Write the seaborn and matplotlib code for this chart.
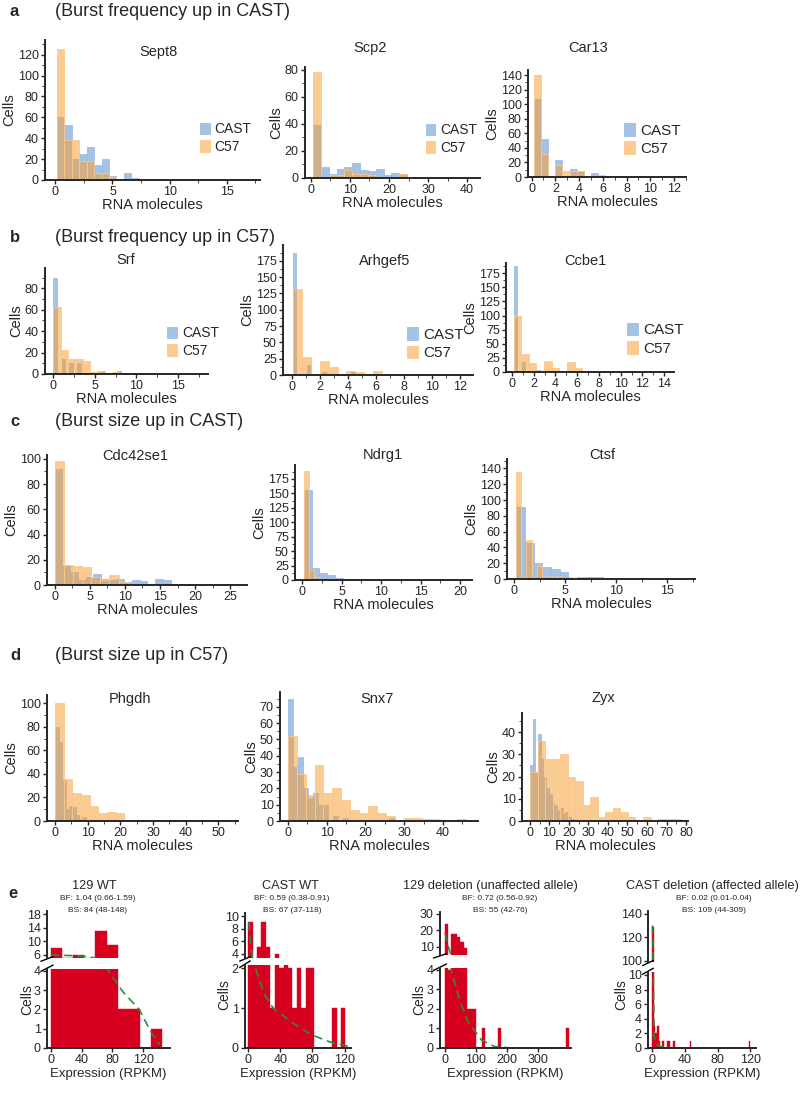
import matplotlib
matplotlib.use("Agg")
import matplotlib.pyplot as plt
import seaborn as sns
from matplotlib.ticker import AutoMinorLocator, MultipleLocator

# ---------------- data: histograms (bin edges + cell counts) ----------------
# row a : burst frequency up in CAST
sept8_cast_edges = [0.15, 0.8, 1.45, 2.1, 2.75, 3.4, 4.05, 4.7, 5.35, 6.0, 6.65, 7.3, 7.95, 8.6]
sept8_cast_counts = [60, 53, 20, 25, 32, 14, 20, 4, 0, 7, 2, 0, 1]
sept8_c57_edges = [0.15, 0.8, 1.45, 2.1, 2.75, 3.4, 4.05, 4.7, 5.35]
sept8_c57_counts = [125, 38, 38, 18, 18, 7, 7, 3]

scp2_cast_edges = [0.6, 2.6, 4.6, 6.6, 8.6, 10.6, 12.6, 14.6, 16.6, 18.6, 20.6, 22.6, 24.6, 26.6, 28.6, 30.6, 32.6, 34.6, 36.6, 38.6, 40.6, 42.6]
scp2_cast_counts = [39, 8, 3, 7, 8, 11, 6, 5, 7, 2, 4, 3, 1, 0, 0, 1, 0, 1, 0, 0, 1]
scp2_c57_edges = [0.6, 2.6, 4.6, 6.6, 8.6, 10.6, 12.6, 14.6, 16.6, 18.6, 20.6, 22.6, 24.6, 26.6, 28.6]
scp2_c57_counts = [78, 1, 2, 2, 6, 3, 3, 2, 1, 1, 1, 3, 1, 0]

car13_cast_edges = [0.2, 0.8, 1.4, 2.0, 2.6, 3.2, 3.8, 4.4, 5.0, 5.6, 6.2, 6.8, 7.4, 8.0, 8.6]
car13_cast_counts = [107, 52, 0, 24, 0, 11, 8, 0, 6, 0, 0, 0, 0, 1]
car13_c57_edges = [0.2, 0.8, 1.4, 2.0, 2.6, 3.2, 3.8, 4.4, 5.0, 5.6, 6.2, 6.8, 7.4]
car13_c57_counts = [140, 31, 0, 16, 8, 8, 8, 0, 2, 3, 0, 2]

# row b : burst frequency up in C57
srf_cast_edges = [0, 0.48, 0.96, 1.44, 1.92, 2.4, 2.88, 3.36, 3.84, 4.32, 4.8, 5.28, 5.76, 6.24, 6.72, 7.2, 7.68, 8.16]
srf_cast_counts = [90, 0, 14, 0, 10, 0, 10, 0, 0, 0, 0, 0, 2, 0, 0, 0, 3]
srf_c57_edges = [0, 0.88, 1.76, 2.64, 3.52, 4.4, 5.28, 6.16, 7.04, 7.92, 8.8, 9.68, 10.56, 11.44, 12.32, 13.2, 14.08, 14.96, 15.84, 16.72, 17.6]
srf_c57_counts = [63, 22, 14, 14, 12, 2, 3, 1, 2, 1, 1, 1, 1, 1, 1, 1, 1, 1, 1, 1]

arhgef5_cast_edges = [0.05, 0.31, 0.57, 0.83, 1.09, 1.35, 1.61, 1.87, 2.13, 2.39, 2.65, 2.91, 3.17, 3.43, 3.69, 3.95, 4.21, 4.47]
arhgef5_cast_counts = [187, 0, 0, 0, 16, 0, 0, 0, 5, 0, 0, 0, 2, 0, 0, 0, 4]
arhgef5_c57_edges = [0.1, 0.73, 1.36, 1.99, 2.62, 3.25, 3.88, 4.51, 5.14, 5.77, 6.4, 7.03, 7.66, 8.29, 8.92, 9.55, 10.18, 10.81, 11.44, 12.07, 12.7]
arhgef5_c57_counts = [131, 28, 0, 21, 12, 0, 6, 5, 0, 6, 0, 0, 0, 0, 0, 0, 0, 0, 0, 1]

ccbe1_cast_edges = [0.15, 0.5, 0.85, 1.2, 1.55, 1.9, 2.25, 2.6, 2.95, 3.3]
ccbe1_cast_counts = [187, 0, 17, 0, 0, 0, 4, 0, 2]
ccbe1_c57_edges = [0.15, 0.85, 1.55, 2.25, 2.95, 3.65, 4.35, 5.05, 5.75, 6.45, 7.15, 7.85]
ccbe1_c57_counts = [100, 32, 16, 0, 20, 7, 0, 17, 7, 0, 2]

# row c : burst size up in CAST
cdc42se1_cast_edges = [0, 1.1, 2.2, 3.3, 4.4, 5.5, 6.6, 7.7, 8.8, 9.9, 11.0, 12.1, 13.2, 14.3, 15.4, 16.5, 17.6, 18.7, 19.8, 20.9]
cdc42se1_cast_counts = [92, 15, 10, 4, 6, 9, 5, 4, 5, 2, 4, 3, 0, 5, 4, 0, 1, 1, 0]
cdc42se1_c57_edges = [0, 1.3, 2.6, 3.9, 5.2, 6.5, 7.8, 9.1, 10.4, 11.7, 13.0, 14.3, 15.6, 16.9, 18.2, 19.5, 20.8, 22.1, 23.4, 24.7, 26.0]
cdc42se1_c57_counts = [98, 16, 15, 14, 6, 4, 8, 2, 1, 0, 0, 0, 0, 0, 0, 0, 0, 0, 0, 1]

ndrg1_cast_edges = [0.2, 1.2, 2.2, 3.2, 4.2, 5.2, 6.2, 7.2, 8.2, 9.2, 10.2]
ndrg1_cast_counts = [155, 20, 12, 8, 4, 2, 1, 1, 0, 1]
ndrg1_c57_edges = [0.2, 0.84, 1.48, 2.12]
ndrg1_c57_counts = [188, 18, 5]

ctsf_cast_edges = [0.2, 1.05, 1.9, 2.75, 3.6, 4.45, 5.3, 6.15, 7.0, 7.85, 8.7, 9.55, 10.4, 11.25, 12.1, 12.95, 13.8, 14.65, 15.5, 16.35, 17.2]
ctsf_cast_counts = [91, 46, 20, 15, 13, 9, 0, 2, 2, 3, 1, 0, 0, 0, 0, 0, 0, 0, 1, 1]
ctsf_c57_edges = [0.2, 0.7, 1.2, 1.7, 2.2, 2.7, 3.2, 3.7, 4.2, 4.7, 5.2, 5.7]
ctsf_c57_counts = [135, 0, 49, 0, 16, 0, 4, 0, 4, 0, 2]

# row d : burst size up in C57
phgdh_cast_edges = [0, 1.06, 2.12, 3.18, 4.24, 5.3, 6.36, 7.42, 8.48, 9.54, 10.6, 11.66, 12.72]
phgdh_cast_counts = [80, 67, 35, 10, 13, 12, 5, 2, 3, 1, 1, 1]
phgdh_c57_edges = [0, 2.65, 5.3, 7.95, 10.6, 13.25, 15.9, 18.55, 21.2, 23.85, 26.5, 29.15, 31.8, 34.45, 37.1, 39.75, 42.4, 45.05, 47.7, 50.35, 53.0]
phgdh_c57_counts = [100, 36, 24, 22, 13, 7, 8, 7, 1, 0, 0, 0, 0, 0, 0, 0, 0, 0, 1, 1]

snx7_cast_edges = [0, 1.3, 2.6, 3.9, 5.2, 6.5, 7.8, 9.1, 10.4, 11.7, 13.0, 14.3, 15.6, 16.9, 18.2, 19.5, 20.8, 22.1, 23.4, 24.7, 26.0, 27.3]
snx7_cast_counts = [75, 33, 39, 20, 14, 17, 10, 10, 0, 3, 0, 2, 0, 0, 0, 0, 0, 0, 0, 0, 2]
snx7_c57_edges = [0, 2.3, 4.6, 6.9, 9.2, 11.5, 13.8, 16.1, 18.4, 20.7, 23.0, 25.3, 27.6, 29.9, 32.2, 34.5, 36.8, 39.1, 41.4, 43.7, 46.0]
snx7_c57_counts = [52, 29, 16, 34, 17, 20, 13, 7, 5, 9, 5, 3, 0, 2, 2, 1, 1, 0, 0, 1]

zyx_cast_edges = [0, 1.4, 2.8, 4.2, 5.6, 7.0, 8.4, 9.8, 11.2, 12.6, 14.0, 15.4, 16.8, 18.2, 19.6, 21.0, 22.4, 23.8]
zyx_cast_counts = [25, 46, 22, 39, 28, 20, 15, 12, 8, 7, 5, 6, 3, 4, 2, 1, 1]
zyx_c57_edges = [0.2, 4.05, 7.9, 11.75, 15.6, 19.45, 23.3, 27.15, 31.0, 34.85, 38.7, 42.55, 46.4, 50.25, 54.1, 57.95, 61.8, 65.65, 69.5, 73.35, 77.2]
zyx_c57_counts = [22, 36, 28, 28, 30, 20, 18, 7, 11, 2, 4, 6, 4, 2, 0, 2, 0, 1, 1, 1]

# row e : allele-specific expression (RPKM), broken y axis, fitted curve in green
wt129_edges = [0, 14.5, 29, 43.5, 58, 72.5, 87, 101.5, 116, 130.5, 145]
wt129_counts = [8, 5, 6, 5, 13, 9, 2, 2, 0, 1]
wt129_fit_x = [0, 30, 50, 75, 94, 115, 130, 141]
wt129_fit_y = [5.9, 5.7, 5.4, 4.0, 2.9, 2.0, 0.85, 0.18]

castwt_edges = [0, 5.5, 11, 16.5, 22, 27.5, 33, 38.5, 44, 49.5, 55, 60.5, 66, 71.5, 77, 82.5, 88, 93.5, 99, 104.5, 110, 115.5, 121]
castwt_counts = [9, 3, 5, 9, 5, 1, 4, 2, 3, 2, 1, 2, 1, 2, 2, 0, 0, 0, 0, 1, 0, 1]
castwt_fit_x = [1, 3, 5, 9, 20, 31, 56, 79, 102, 125]
castwt_fit_y = [9.0, 5.5, 3.5, 2.0, 1.35, 1.0, 0.62, 0.33, 0.15, 0.04]

del129_edges = [0, 10, 20, 30, 40, 50, 60, 70, 80, 90, 100, 110, 120, 130, 140, 150, 160, 170, 180]
del129_counts = [24, 4, 18, 18, 16, 13, 9, 2, 2, 2, 0, 0, 1, 0, 0, 0, 0, 1]
del129_extra_edges = [390, 400]
del129_extra_counts = [1]
del129_fit_x = [0, 10, 17, 20, 46, 74, 117, 160, 217, 400]
del129_fit_y = [18.6, 10.7, 6.0, 4.0, 2.5, 1.35, 0.42, 0.07, 0.0, 0.0]

delcast_edges = [0, 2, 4, 6, 8, 10, 12, 14, 16, 18, 20, 22, 24, 26, 28, 30, 32, 34, 36, 38, 40, 42, 44, 46, 48]
delcast_counts = [129, 3, 2, 3, 1, 0, 1, 0, 0, 1, 1, 0, 0, 1, 0, 0, 0, 0, 0, 0, 0, 0, 0, 1]
delcast_extra_edges = [118, 120]
delcast_extra_counts = [1]
delcast_fit_x = [0.5, 0.8, 1.2, 1.6, 2.5, 5, 10, 20, 35]
delcast_fit_y = [130, 115, 60, 10, 1.6, 0.5, 0.2, 0.05, 0.0]

e_titles = ['129 WT', 'CAST WT', '129 deletion (unaffected allele)', 'CAST deletion (affected allele)']
e_bf = ['BF: 1.04 (0.66-1.59)', 'BF: 0.59 (0.38-0.91)', 'BF: 0.72 (0.56-0.92)', 'BF: 0.02 (0.01-0.04)']
e_bs = ['BS: 84 (48-148)', 'BS: 67 (37-118)', 'BS: 55 (42-76)', 'BS: 109 (44-309)']

# ---------------- style ----------------
sns.set_style("ticks")
plt.rcParams['font.family'] = ['Liberation Sans', 'DejaVu Sans']
plt.rcParams['axes.linewidth'] = 1.4
plt.rcParams['xtick.major.width'] = 1.0
plt.rcParams['ytick.major.width'] = 1.0
plt.rcParams['xtick.major.size'] = 3
plt.rcParams['ytick.major.size'] = 3
plt.rcParams['xtick.minor.size'] = 2
plt.rcParams['ytick.minor.size'] = 2
plt.rcParams['xtick.labelsize'] = 9
plt.rcParams['ytick.labelsize'] = 9
plt.rcParams['xtick.major.pad'] = 1.5
plt.rcParams['ytick.major.pad'] = 1.5

CAST, CAST_EDGE = '#5b8fcf', '#9dbde6'
C57, C57_EDGE = '#f6a13a', '#fcc88a'
RED = '#d8001f'
GREEN = '#2e8b3a'

W, H = 800, 1094
fig = plt.figure(figsize=(W / 100, H / 100), dpi=100)


def px_axes(left, top, right, bottom):
    return fig.add_axes([left / W, 1 - bottom / H, (right - left) / W, (bottom - top) / H])


def px_text(x, y, s, **kw):
    fig.text(x / W, 1 - y / H, s, **kw)


def strain_panel(box, title, title_xy, cast, c57, xlim, ylim, xstep, ystep, leg_xy=None, legsize=10):
    ax = px_axes(*box)
    for (edges, counts), color, edge, name in [(cast, CAST, CAST_EDGE, 'CAST'), (c57, C57, C57_EDGE, 'C57')]:
        sns.histplot(x=edges[:-1], weights=counts, bins=edges, color=color, alpha=0.55,
                     edgecolor=edge, linewidth=0.6, label=name, ax=ax)
    ax.set_xlim(*xlim)
    ax.set_ylim(*ylim)
    ax.xaxis.set_major_locator(MultipleLocator(xstep))
    ax.yaxis.set_major_locator(MultipleLocator(ystep))
    ax.xaxis.set_minor_locator(AutoMinorLocator(2))
    ax.yaxis.set_minor_locator(AutoMinorLocator(2))
    ax.set_xlabel('RNA molecules', fontsize=10.5, labelpad=0)
    ax.set_ylabel('Cells', fontsize=10.5, labelpad=1)
    sns.despine(ax=ax)
    px_text(*title_xy, title, fontsize=10.5, ha='center', va='center')
    if leg_xy is not None:
        ax.legend(loc='center left', bbox_to_anchor=leg_xy, frameon=False, fontsize=legsize,
                  handlelength=0.7, handleheight=0.9, handletextpad=0.35, labelspacing=0.25,
                  borderaxespad=0, borderpad=0)
    return ax


def section(letter, text, y, x_text):
    px_text(10, y, letter, fontsize=12, fontweight='bold', va='center')
    px_text(x_text, y, text, fontsize=13, va='center')


# ---------------- rows a-d ----------------
section('a', '(Burst frequency up in CAST)', 12, 55)
strain_panel((45, 40, 260, 180), 'Sept8', (158, 52), (sept8_cast_edges, sept8_cast_counts),
             (sept8_c57_edges, sept8_c57_counts), (-0.9, 17.9), (0, 134), 5, 20, (0.72, 0.3))
strain_panel((305, 67, 480, 178), 'Scp2', (370, 48), (scp2_cast_edges, scp2_cast_counts),
             (scp2_c57_edges, scp2_c57_counts), (-1.5, 43.3), (0, 82), 10, 20, (0.69, 0.35))
strain_panel((528, 70, 686, 177), 'Car13', (588, 48), (car13_cast_edges, car13_cast_counts),
             (car13_c57_edges, car13_c57_counts), (-0.3, 13), (0, 147), 2, 20, (0.61, 0.35), 11)

section('b', '(Burst frequency up in C57)', 237, 55)
strain_panel((45, 268, 208, 374), 'Srf', (126, 260), (srf_cast_edges, srf_cast_counts),
             (srf_c57_edges, srf_c57_counts), (-1, 18.6), (0, 99), 5, 20, (0.75, 0.3))
strain_panel((283, 245, 473, 375), 'Arhgef5', (385, 261), (arhgef5_cast_edges, arhgef5_cast_counts),
             (arhgef5_c57_edges, arhgef5_c57_counts), (-0.64, 12.9), (0, 199), 2, 25, (0.655, 0.24), 11)
strain_panel((506, 263, 674, 372), 'Ccbe1', (585, 261), (ccbe1_cast_edges, ccbe1_cast_counts),
             (ccbe1_c57_edges, ccbe1_c57_counts), (-0.55, 14.9), (0, 193), 2, 25, (0.72, 0.3), 11)

section('c', '(Burst size up in CAST)', 422, 55)
strain_panel((47, 455, 247, 585), 'Cdc42se1', (135, 456), (cdc42se1_cast_edges, cdc42se1_cast_counts),
             (cdc42se1_c57_edges, cdc42se1_c57_counts), (-1.1, 27.4), (0, 103), 5, 20)
strain_panel((295, 465, 472, 580), 'Ndrg1', (383, 455), (ndrg1_cast_edges, ndrg1_cast_counts),
             (ndrg1_c57_edges, ndrg1_c57_counts), (-0.9, 21.5), (0, 199), 5, 25)
strain_panel((507, 459, 695, 579), 'Ctsf', (602, 455), (ctsf_cast_edges, ctsf_cast_counts),
             (ctsf_c57_edges, ctsf_c57_counts), (-0.7, 17.7), (0, 152), 5, 20)

section('d', '(Burst size up in C57)', 655, 55)
strain_panel((47, 695, 238, 821), 'Phgdh', (130, 699), (phgdh_cast_edges, phgdh_cast_counts),
             (phgdh_c57_edges, phgdh_c57_counts), (-2.5, 56), (0, 107), 10, 20)
strain_panel((280, 692, 478, 821), 'Snx7', (377, 699), (snx7_cast_edges, snx7_cast_counts),
             (snx7_c57_edges, snx7_c57_counts), (-2, 49), (0, 79), 10, 10)
strain_panel((522, 713, 688, 821), 'Zyx', (603, 698), (zyx_cast_edges, zyx_cast_counts),
             (zyx_c57_edges, zyx_c57_counts), (-4, 81), (0, 48.6), 10, 10)


# ---------------- row e : broken axes ----------------
def broken_panel(left, right, top_box, bot_box, hist, extra, fit,
                 top_lim, top_ticks, bot_lim, bot_ticks, xlim, xticks):
    ax_t = px_axes(left, top_box[0], right, top_box[1])
    ax_b = px_axes(left, bot_box[0], right, bot_box[1])
    for ax in (ax_t, ax_b):
        for edges, counts in (hist, extra):
            if edges:
                sns.histplot(x=edges[:-1], weights=counts, bins=edges, color=RED, alpha=1,
                             edgecolor=RED, linewidth=0.3, ax=ax)
        sns.lineplot(x=fit[0], y=fit[1], color=GREEN, linestyle=(0, (5, 3)), linewidth=1.2, ax=ax)
        ax.set_xlim(*xlim)
        ax.set_ylabel('')
        sns.despine(ax=ax)
    ax_t.set_ylim(*top_lim)
    ax_t.set_yticks(top_ticks)
    ax_t.set_xticks([])
    ax_t.spines['bottom'].set_visible(False)
    ax_t.set_xlabel('')
    ax_b.set_ylim(*bot_lim)
    ax_b.set_yticks(bot_ticks)
    ax_b.set_xticks(xticks)
    ax_b.set_xlabel('Expression (RPKM)', fontsize=9.5, labelpad=1)
    # break marks on the y axis
    kw = dict(color='k', clip_on=False, linewidth=1.0)
    ax_t.plot([-0.05, 0.05], [-0.07, 0.03], transform=ax_t.transAxes, **kw)
    ax_b.plot([-0.05, 0.05], [0.97, 1.05], transform=ax_b.transAxes, **kw)
    return ax_t, ax_b


px_text(8, 893, 'e', fontsize=12, fontweight='bold', va='center')

broken_panel(47, 170, (911, 958), (969, 1048), (wt129_edges, wt129_counts), ([], []),
             (wt129_fit_x, wt129_fit_y), (5.0, 19.0), [6, 10, 14, 18], (0, 4.1), [0, 1, 2, 3, 4],
             (-5, 155), [0, 40, 80, 120])
broken_panel(245, 351, (913, 958), (965, 1048), (castwt_edges, castwt_counts), ([], []),
             (castwt_fit_x, castwt_fit_y), (3.3, 10.5), [4, 6, 8, 10], (0, 2.08), [0, 1, 2],
             (-4, 128), [0, 40, 80, 120])
broken_panel(440, 571, (912, 955), (968, 1048), (del129_edges, del129_counts),
             (del129_extra_edges, del129_extra_counts), (del129_fit_x, del129_fit_y),
             (5, 31.2), [10, 20, 30], (0, 4.1), [0, 1, 2, 3, 4], (-16, 406), [0, 100, 200, 300])
broken_panel(648, 756, (911, 962), (972, 1048), (delcast_edges, delcast_counts),
             (delcast_extra_edges, delcast_extra_counts), (delcast_fit_x, delcast_fit_y),
             (99, 142.5), [100, 120, 140], (0, 10.4), [0, 2, 4, 6, 8, 10], (-5, 127), [0, 40, 80, 120])

for x, t in zip([94, 290, 490, 712], e_titles):
    px_text(x, 886, t, fontsize=9.2, ha='center', va='center')
for x, t in zip([98, 292, 500, 714], e_bf):
    px_text(x, 899, t, fontsize=6, ha='center', va='center')
for x, t in zip([98, 292, 500, 714], e_bs):
    px_text(x, 911, t, fontsize=6, ha='center', va='center')
for x, y in zip([27, 224, 419, 621], [1000, 995, 1000, 995]):
    px_text(x, y, 'Cells', fontsize=10, rotation=90, ha='center', va='center')

fig.savefig('out.png', dpi=100)
